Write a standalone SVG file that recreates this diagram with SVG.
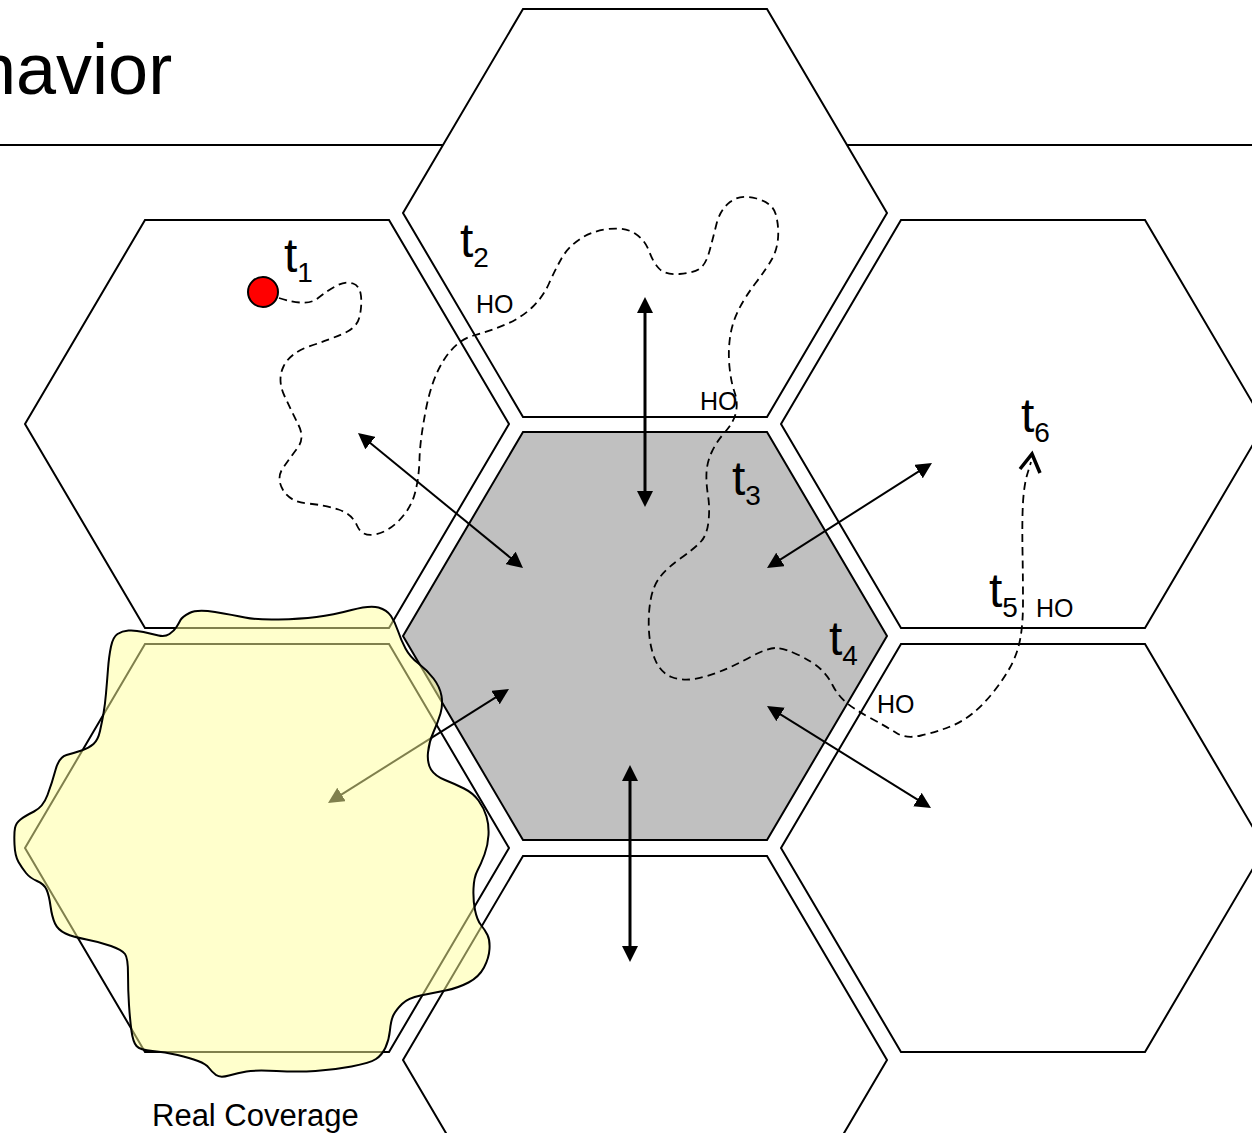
<svg xmlns="http://www.w3.org/2000/svg" width="1252" height="1133" viewBox="0 0 1252 1133">
<style>
.hex{fill:#FFFFFF;stroke:#000;stroke-width:2}
.hex.center{fill:#C0C0C0}
.t{font-family:"Liberation Sans",Arial,sans-serif;font-size:48px;fill:#000}
.sub{font-size:28px}
.ho{font-family:"Liberation Sans",Arial,sans-serif;font-size:25px;fill:#000}
.thick{stroke:#000;stroke-width:3;fill:none}
.thin{stroke:#000;stroke-width:2;fill:none}
.traj{stroke:#000;stroke-width:1.8;fill:none;stroke-dasharray:8 5}
</style>
<defs>
<marker id="ah" viewBox="0 0 16 16" refX="12" refY="8" markerWidth="16" markerHeight="16" orient="auto-start-reverse" markerUnits="userSpaceOnUse">
<path d="M0,0 L16,8 L0,16 z" fill="#000"/>
</marker>
</defs>
<rect width="1252" height="1133" fill="#FFFFFF"/>
<text x="-24" y="94" font-family="'Liberation Sans',Arial,sans-serif" font-size="72" fill="#000">havior</text>
<line x1="0" y1="145" x2="1252" y2="145" stroke="#000" stroke-width="2"/>
<g id="hex-top"><polygon class="hex" points="523,9 767,9 887,213 767,417 523,417 403,213"/></g>
<g id="hex-upper-left"><polygon class="hex" points="145,220 389,220 509,424 389,628 145,628 25,424"/></g>
<g id="hex-upper-right"><polygon class="hex" points="901,220 1145,220 1265,424 1145,628 901,628 781,424"/></g>
<g id="hex-center"><polygon class="hex center" points="523,432 767,432 887,636 767,840 523,840 403,636"/></g>
<g id="hex-lower-left"><polygon class="hex" points="145,644 389,644 509,848 389,1052 145,1052 25,848"/></g>
<g id="hex-lower-right"><polygon class="hex" points="901,644 1145,644 1265,848 1145,1052 901,1052 781,848"/></g>
<g id="hex-bottom"><polygon class="hex" points="523,856 767,856 887,1060 767,1264 523,1264 403,1060"/></g>
<g id="trajectory">
<path class="traj" d="M279,298 Q307,307 317.5,298.5 T337,285.5 T353,283.5 T361,296 T359.5,317 T342.5,334 T309,346.5 T283.5,366.5 T284.5,396 T298.5,425 T297.5,448 T283,468 T283,490 T307.5,503.5 T338.5,509.5 T357,525.5 T375,534.5 T399.5,520 T415,493 T419.5,459 T426,409 T444.5,359 T473.5,335.5 T505.5,324.5 T532,307.5 T549,283.5 T561.5,258.5 T580,239 T608.5,229 T635,233.5 T649,251 T659,268.5 T679.5,274 T700,268.5 T709.5,251 T716.5,224 T730,202 T756.5,198.5 T776,215 T778,238.5 T772,259 T756,282.5 T738.5,310 T730,337.5 T729.5,367 T734.5,392 T736,412 T725.5,431.5 T712,451.5 T706.5,472.5 T708,495.5 T708.5,521.5 T701,541.5 T681,558 T660,577 T650.5,600.5 T649,631.5 T655.5,660.5 T671.5,677 T694,679 T720,671.5 T750.5,657 T775.5,648 T798.5,655 T820.5,669 T832.5,685 T844.5,701 T869.5,717.5 T896.5,733 T921,735.5 T949,727 T972.5,713.5 T993,692.5 T1010,667.5 T1020,640 T1023,602.5 T1022.5,550 T1023,502.5 T1027.5,473.5 L1031,462"/>
<polyline points="1020,469 1032,454 1040,473" fill="none" stroke="#000" stroke-width="3.5"/>
</g>
<g id="mobile"><circle cx="263" cy="292" r="15" fill="#FF0000" stroke="#000" stroke-width="2"/></g>
<g id="connectors">
<line class="thick" x1="645" y1="301" x2="645" y2="503" marker-start="url(#ah)" marker-end="url(#ah)"/>
<line class="thick" x1="630" y1="769" x2="630" y2="958" marker-start="url(#ah)" marker-end="url(#ah)"/>
<line class="thin" x1="361.1" y1="435.5" x2="519.9" y2="565.5" marker-start="url(#ah)" marker-end="url(#ah)"/>
<line class="thin" x1="928.6" y1="465.1" x2="770.4" y2="565.9" marker-start="url(#ah)" marker-end="url(#ah)"/>
<line class="thin" x1="331.4" y1="800.9" x2="505.6" y2="691.1" marker-start="url(#ah)" marker-end="url(#ah)"/>
<line class="thin" x1="770.4" y1="708.1" x2="927.6" y2="805.9" marker-start="url(#ah)" marker-end="url(#ah)"/>
</g>
<g id="real-coverage">
<path d="M180.5,620 Q182,617 189.5,613 T215,612 T245,617.5 T278.5,619.5 T316.5,617 T351.5,610 T378.5,607.5 T391,616 T398,631 T405.5,648.5 T418.5,663.5 T433.5,678.5 T441.5,696 T440.5,713.5 T433.5,732 T428,752.5 T431,769.5 T445,780 T464,788.5 T478.5,800.5 T486.5,816.5 T488.5,835 T484.5,854.5 T477.5,870.5 T473.5,888.5 T475,910 T481,925 T487.5,935 T489.5,949 T484,967.5 T468.5,982.5 T445.5,990.5 T420.5,995.5 T402,1004 T393.5,1015 T390,1030 T385.5,1047.5 T376,1059 T351.5,1066.5 T315.5,1071 T276.5,1071 T246.5,1071.5 T229,1075.5 T216,1075 T209,1068 T198,1061 T177.5,1055 T152.5,1051 T136.5,1046 T131.5,1031 T129,1005 T128,974 T125,954 T111,946 T86.5,939.5 T65.5,933.5 T55,923.5 T50.5,906 T46.5,889.5 T37,881 T26,873 T18.5,862 T14.5,844.5 T15,828 T20.5,819.5 T34,811.5 T47.5,795 T55.5,770 T66.5,755 T81.5,750.5 T93.5,744 T100,731 T103.5,713.5 T106,693.5 T108,669 T111,646.5 T117.5,634 T128.5,630.5 T143.5,632 T158.5,635.5 T169.5,634 T176.5,627 T180.5,620 Z" fill="#FFFF99" fill-opacity="0.5" stroke="#000" stroke-width="2"/>
<text x="152" y="1126" font-family="'Liberation Sans',Arial,sans-serif" font-size="31" fill="#000">Real Coverage</text>
</g>
<g id="labels">
<text class="t" x="284" y="272">t<tspan class="sub" dy="10">1</tspan></text>
<text class="t" x="460" y="257">t<tspan class="sub" dy="10">2</tspan></text>
<text class="t" x="732" y="495">t<tspan class="sub" dy="10">3</tspan></text>
<text class="t" x="829" y="655">t<tspan class="sub" dy="10">4</tspan></text>
<text class="t" x="989" y="607">t<tspan class="sub" dy="10">5</tspan></text>
<text class="t" x="1021" y="432">t<tspan class="sub" dy="10">6</tspan></text>
<text class="ho" x="476" y="313">HO</text>
<text class="ho" x="700" y="410">HO</text>
<text class="ho" x="1036" y="617">HO</text>
<text class="ho" x="877" y="713">HO</text>
</g>
</svg>
